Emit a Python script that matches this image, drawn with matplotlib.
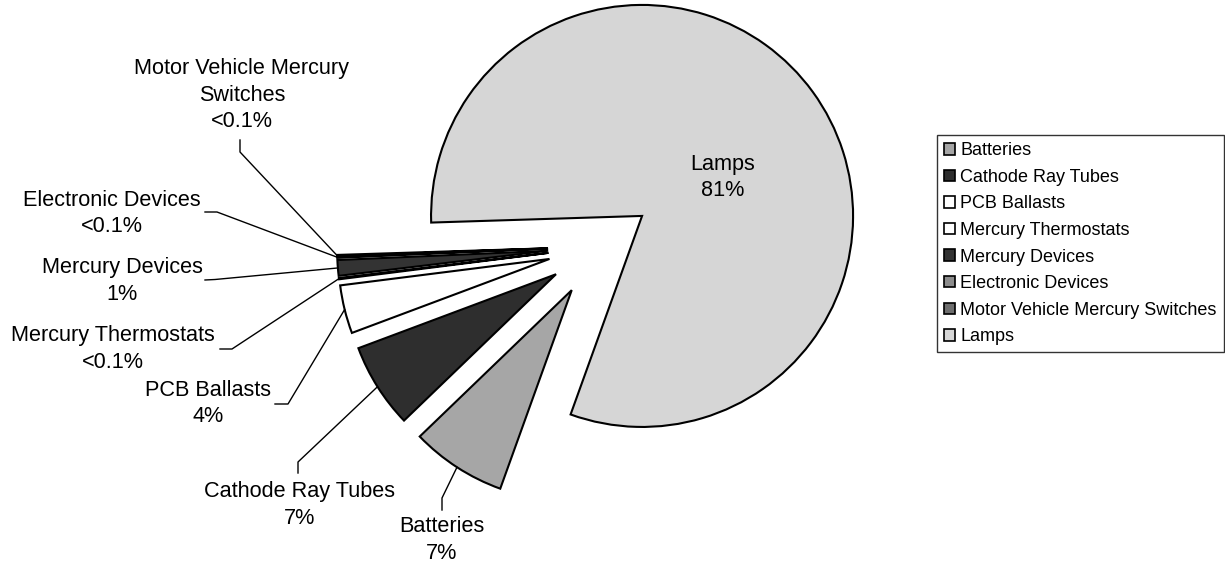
import numpy as np
import matplotlib.pyplot as plt
from matplotlib.patches import Patch

# slice data, legend order (clockwise from the Lamps edge)
categories = ['Batteries', 'Cathode Ray Tubes', 'PCB Ballasts', 'Mercury Thermostats',
              'Mercury Devices', 'Electronic Devices', 'Motor Vehicle Mercury Switches', 'Lamps']
label_names = ['Batteries', 'Cathode Ray Tubes', 'PCB Ballasts', 'Mercury Thermostats',
               'Mercury Devices', 'Electronic Devices', 'Motor Vehicle Mercury\nSwitches', 'Lamps']
shares = [7.3, 6.5, 3.7, 0.1, 1.2, 0.1, 0.1, 81.0]
pct_labels = ['7%', '7%', '4%', '<0.1%', '1%', '<0.1%', '<0.1%', '81%']

colors = ['#a6a6a6', '#2e2e2e', 'white', 'white', '#333333', '#8c8c8c', '#6e6e6e', '#d6d6d6']

# label placement in pixels: text centre, leader start, leader elbow (None for inside label)
label_pos = [(442, 540), (300, 505), (208, 403.5), (113, 349), (122, 281), (112, 213.5), (242, 95), (723, 177.5)]
leader_start = [(442, 510), (298, 473), (275, 404), (220, 349), (205, 280), (205, 212), (240, 140), None]
leader_elbow = [(442, 498), (298, 462), (288, 404), (232, 349), (215, 279.5), (217, 212), (240, 152), None]

plt.rcParams['font.family'] = ['Liberation Sans', 'DejaVu Sans']

fig = plt.figure(figsize=(12.25, 5.69), dpi=100)
ax = fig.add_axes([0, 0, 1, 1])

cx, cy, r = 600, 246.5, 211
expl = 52  # pie explode is in data units
wedges, _ = ax.pie(shares, explode=[expl] * len(shares), center=(cx, cy), radius=r,
                   startangle=-250.2, counterclock=True, colors=colors,
                   wedgeprops=dict(edgecolor='black', linewidth=1.5))

# pixel-like coordinates, y downward
ax.set_xlim(0, 1225)
ax.set_ylim(569, 0)
ax.set_aspect('equal')
ax.axis('off')

for i, w in enumerate(wedges):
    txt = label_names[i] + '\n' + pct_labels[i]
    tx, ty = label_pos[i]
    ax.text(tx, ty, txt, ha='center', va='center', fontsize=15.6, linespacing=1.36)
    if leader_start[i] is None:
        continue
    th = np.deg2rad((w.theta1 + w.theta2) / 2)
    px = w.center[0] + r * np.cos(th)
    py = w.center[1] + r * np.sin(th)
    sx, sy = leader_start[i]
    ex, ey = leader_elbow[i]
    ax.plot([sx, ex, px], [sy, ey, py], color='black', lw=1)

handles = [Patch(facecolor=c, edgecolor='black', linewidth=1.2) for c in colors]
leg = ax.legend(handles, categories, loc='upper left',
                bbox_to_anchor=(937 / 1225, 1 - 135 / 569), bbox_transform=fig.transFigure,
                frameon=True, fancybox=False, edgecolor='black', fontsize=13,
                handlelength=0.6, handleheight=0.6, handletextpad=0.3,
                labelspacing=0.53, borderpad=0.4, borderaxespad=0)
leg.get_frame().set_linewidth(1.0)

fig.savefig('out.png', dpi=100)
